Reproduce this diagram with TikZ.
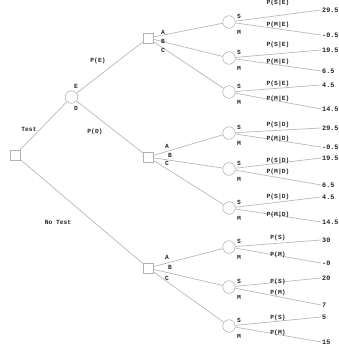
\documentclass[tikz,border=0pt]{standalone}
\usepackage{fontspec}
\setmonofont{Liberation Mono}
\begin{document}
\begin{tikzpicture}[x=1pt,y=-1pt,
  lbl/.style={font=\ttfamily\bfseries\fontsize{6.3}{7}\selectfont, inner sep=0pt, text=black!85},
  decbox/.style={draw=gray!60, line width=0.6pt, minimum size=10pt, inner sep=0pt},
  chance/.style={circle, draw=gray!60, line width=0.6pt, minimum size=12.5pt, inner sep=0pt},
  conn/.style={draw=gray!55, line width=0.7pt},
  val/.style={lbl, font=\ttfamily\bfseries\fontsize{6.8}{7}\selectfont, anchor=west, inner sep=1pt}]
\useasboundingbox (0,0) rectangle (338,350);
% decision and chance nodes
\node[decbox] (root) at (15,155) {};
\node[chance] (tc) at (71.5,97) {};
\node[decbox] (dE) at (148,38) {};
\node[decbox] (dD) at (148,157) {};
\node[decbox] (dN) at (148,268) {};
\draw[conn] (root) -- (tc);
\draw[conn] (root) -- (dN);
\draw[conn] (tc) -- (dE);
\draw[conn] (tc) -- (dD);
\node[lbl] at (29,129) {Test};
\node[lbl] at (58,222) {No Test};
\node[lbl] at (98,61) {P(E)};
\node[lbl] at (95,132) {P(D)};
\node[lbl] at (76,86) {E};
\node[lbl] at (76,108) {D};
% chance circles
\foreach \n/\y in {e1/22,e2/58,e3/92,d1/133,d2/169,d3/208,n1/247,n2/287,n3/326}
  \node[chance] (\n) at (229,\y) {};
\foreach \d/\c in {dE/e1,dE/e2,dE/e3,dD/d1,dD/d2,dD/d3,dN/n1,dN/n2,dN/n3}
  \draw[conn] (\d) -- (\c);
% A B C labels
\foreach \x/\y/\t in {163/32/A,163/41/B,163/50/C,167/146/A,170/155/B,167/163/C,167/257/A,170/267/B,167/278/C}
  \node[lbl] at (\x,\y) {\t};
% S M labels
\foreach \y in {22,58,92,133,169,208,247,287,326}{
  \node[lbl] at (239,\y-6) {S};
  \node[lbl] at (239,\y+10) {M};
}
% outcome values
\foreach \n/\y/\t in {v1/10/29.5,v2/35/-0.5,v3/50/19.5,v4/71/6.5,v5/85/4.5,v6/109/14.5,
  v7/128/29.5,v8/147/-0.5,v9/158/19.5,v10/185/6.5,v11/197/4.5,v12/222/14.5,
  v13/240/30,v14/263/-0,v15/278/20,v16/305/7,v17/317/5,v18/342/15}
  \node[val] (\n) at (321,\y) {\t};
\foreach \c/\a/\b in {e1/v1/v2,e2/v3/v4,e3/v5/v6,d1/v7/v8,d2/v9/v10,d3/v11/v12,n1/v13/v14,n2/v15/v16,n3/v17/v18}{
  \draw[conn] (\c) -- (\a.west);
  \draw[conn] (\c) -- (\b.west);
}
% probability labels
\foreach \y/\t in {3/P(S|E),25/P(M|E),45/P(S|E),62/P(M|E),84/P(S|E),99/P(M|E),
  125/P(S|D),139/P(M|D),161/P(S|D),172/P(M|D),197/P(S|D),215/P(M|D),
  238/P(S),255/P(M),282/P(S),293/P(M),318/P(S),333/P(M)}
  \node[lbl] at (278,\y) {\t};
\end{tikzpicture}
\end{document}
